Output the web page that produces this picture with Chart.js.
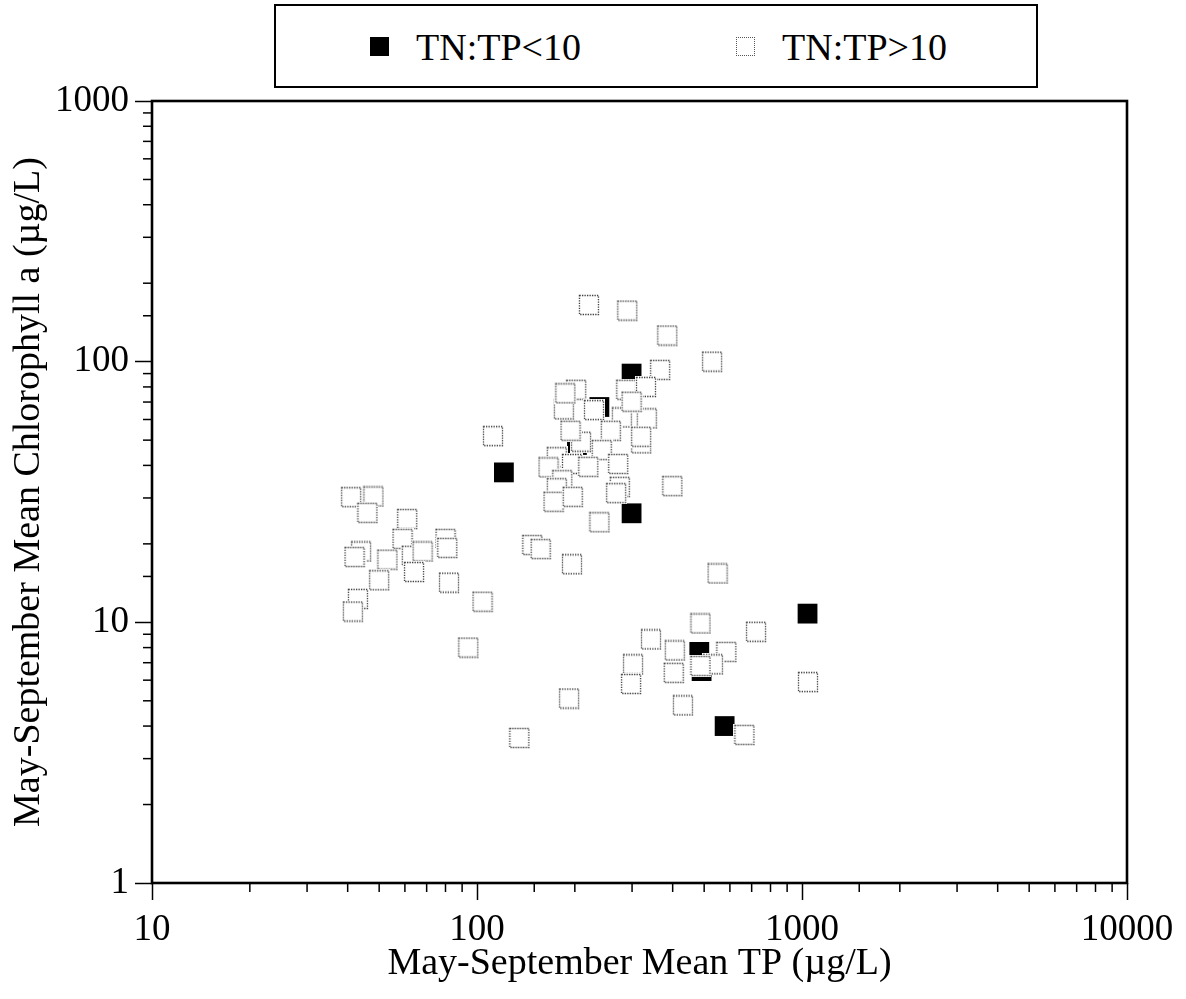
<!DOCTYPE html>
<html>
<head>
<meta charset="utf-8">
<script src="https://cdn.jsdelivr.net/npm/chart.js@4"></script>
<style>
  html, body { margin: 0; padding: 0; background: #fff; }
  #wrap { position: relative; width: 1186px; height: 999px; }
  #legend {
    position: absolute; left: 274px; top: 4px; width: 764px; height: 84px;
    border: 2.5px solid #000; box-sizing: border-box; background: #fff;
    font-family: "Liberation Serif", "Times New Roman", serif; font-size: 38px; color: #000;
  }
  #legend .item { position: absolute; top: 18px; height: 44px; line-height: 44px; white-space: nowrap; }
  #legend .mark { position: absolute; top: 13px; width: 19px; height: 19px; box-sizing: border-box; }
  #legend .txt { position: absolute; left: 46px; top: 1px; }
</style>
</head>
<body>
<div id="wrap">
  <canvas id="chart"></canvas>
  <div id="legend"></div>
</div>
<script>
// TN:TP < 10 (filled squares)
var lowTP  = [121, 299, 238, 203, 299, 1040, 483, 491, 578];
var lowChl = [37.6, 90, 67, 47.9, 26.2, 10.8, 7.7, 6.5, 4.0];

// TN:TP > 10 (open squares)
var highTP = [41, 48, 46, 61, 59, 44, 42, 53, 63, 68, 80, 81, 64, 50, 82, 43, 41.5, 104, 94, 192,
  135, 148, 157, 196, 238, 112, 221, 290, 385, 529, 366, 288, 331, 202, 185, 229, 333, 279, 299, 258,
  320, 320, 209, 194, 242, 176, 166, 196, 220, 272, 183, 176, 275, 268, 399, 172, 197, 187,
  550, 487, 722, 343, 406, 585, 302, 532, 487, 403, 298, 1043, 430, 665];
var highChl = [30.2, 30.4, 26.3, 24.9, 20.9, 18.7, 17.8, 17.4, 18.0, 18.7, 20.9, 19.3, 15.6, 14.5, 14.2, 12.3, 11.0, 12.0, 8.0, 5.1,
  3.6, 19.8, 19.1, 16.7, 24.2, 51.8, 165, 157, 126, 100, 93, 78, 80, 78, 65.6, 65.2, 60.6, 61.1, 70.2, 54.3,
  48.6, 51.5, 49.3, 54.3, 45.8, 43.0, 39.3, 40.5, 39.5, 40.5, 35.1, 32.7, 33.1, 31.3, 33.3, 29.0, 30.3, 75.6,
  15.4, 9.9, 9.2, 8.6, 7.8, 7.7, 6.9, 6.9, 6.8, 6.4, 5.8, 5.9, 4.8, 3.7];

var seriesLabels = ['TN:TP<10', 'TN:TP>10'];
var xTitle = 'May-September Mean TP (\u00b5g/L)';
var yTitle = 'May-September Mean Chlorophyll a (\u00b5g/L)';
var xRange = [10, 10000];
var yRange = [1, 1000];

var serif = '"Liberation Serif", "Times New Roman", serif';

function pairs(xs, ys) {
  return xs.map(function (x, i) { return { x: x, y: ys[i] }; });
}

function isDecade(v) {
  var l = Math.log10(v);
  return Math.abs(l - Math.round(l)) < 1e-9;
}

// dotted open square used as point style
var openMark = document.createElement('canvas');
openMark.width = 22;
openMark.height = 22;
(function () {
  var c = openMark.getContext('2d');
  c.fillStyle = '#fff';
  c.fillRect(0, 0, 22, 22);
  c.strokeStyle = '#3a3a3a';
  c.lineWidth = 1.3;
  c.setLineDash([1.3, 1.2]);
  c.strokeRect(1.5, 1.5, 19, 19);
})();

var frame = {
  id: 'frame',
  afterDraw: function (chart) {
    var ctx = chart.ctx;
    var a = chart.chartArea;
    ctx.save();
    ctx.strokeStyle = '#000';
    // minor ticks, shorter than the major ones
    ctx.lineWidth = 1.5;
    ['x', 'y'].forEach(function (id) {
      var s = chart.scales[id];
      s.ticks.forEach(function (t) {
        if (isDecade(t.value)) return;
        var p = s.getPixelForValue(t.value);
        ctx.beginPath();
        if (id === 'x') { ctx.moveTo(p, a.bottom); ctx.lineTo(p, a.bottom + 9); }
        else { ctx.moveTo(a.left, p); ctx.lineTo(a.left - 9, p); }
        ctx.stroke();
      });
    });
    ctx.lineWidth = 2.6;
    ctx.strokeRect(a.left, a.top, a.right - a.left, a.bottom - a.top);
    ctx.restore();
  }
};

function axisOpts(range, title, isX) {
  return {
    type: 'logarithmic',
    min: range[0],
    max: range[1],
    border: { display: false },
    grid: {
      drawOnChartArea: false,
      drawTicks: true,
      tickLength: 17,
      tickWidth: 1.5,
      tickColor: function (c) { return c.tick && isDecade(c.tick.value) ? '#000' : 'rgba(0,0,0,0)'; }
    },
    ticks: {
      autoSkip: false,
      maxRotation: 0,
      padding: isX ? 8 : 6,
      color: '#000',
      font: { family: serif, size: 37 },
      callback: function (v) { return isDecade(v) ? String(v) : ''; }
    },
    title: {
      display: true,
      text: title,
      color: '#000',
      font: { family: serif, size: 38 },
      padding: isX ? { top: 0, bottom: 12 } : { top: 6, bottom: 0 }
    },
    afterFit: function (s) {
      if (isX) s.height = 116; else s.width = 152;
    }
  };
}

var chart = new Chart(document.getElementById('chart'), {
  type: 'scatter',
  data: {
    datasets: [{
      label: seriesLabels[0],
      data: pairs(lowTP, lowChl),
      pointStyle: 'rect',
      pointRadius: 14,
      pointHoverRadius: 14,
      backgroundColor: '#000',
      borderColor: '#000',
      borderWidth: 0,
      order: 2
    }, {
      label: seriesLabels[1],
      data: pairs(highTP, highChl),
      pointStyle: openMark,
      pointRadius: 10,
      order: 1
    }]
  },
  options: {
    responsive: true,
    maintainAspectRatio: false,
    animation: false,
    layout: { padding: { top: 101, right: 59, left: 0, bottom: 0 } },
    scales: {
      x: axisOpts(xRange, xTitle, true),
      y: axisOpts(yRange, yTitle, false)
    },
    plugins: {
      legend: { display: false },
      tooltip: { enabled: false }
    }
  },
  plugins: [frame]
});

// legend box drawn as HTML, built from the dataset labels
var legendEl = document.getElementById('legend');
var legendLeft = [94, 460];
chart.data.datasets.forEach(function (ds, i) {
  var item = document.createElement('div');
  item.className = 'item';
  item.style.left = legendLeft[i] + 'px';
  var mark = document.createElement('div');
  mark.className = 'mark';
  if (i === 0) mark.style.background = '#000';
  else mark.style.border = '1px dotted #555';
  var txt = document.createElement('span');
  txt.className = 'txt';
  txt.textContent = ds.label;
  item.appendChild(mark);
  item.appendChild(txt);
  legendEl.appendChild(item);
});
</script>
</body>
</html>
